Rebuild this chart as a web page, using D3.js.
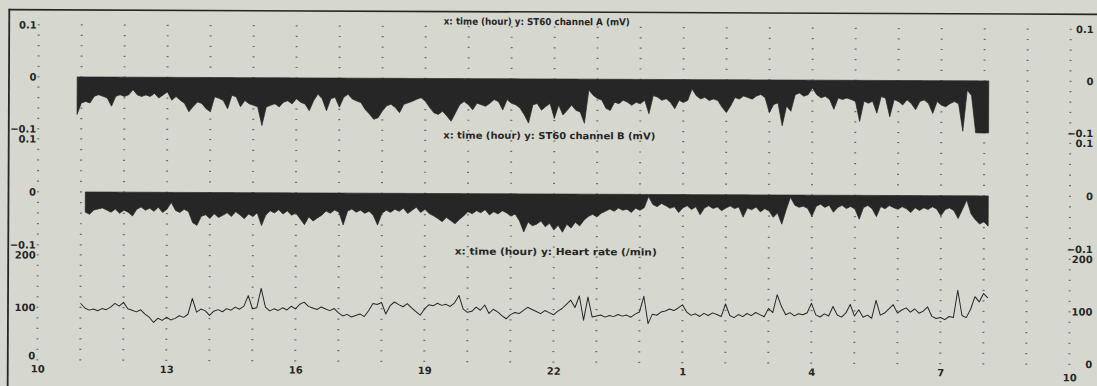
<!DOCTYPE html>
<html><head><meta charset="utf-8">
<script src="https://cdn.jsdelivr.net/npm/d3@7"></script>
<style>
html,body{margin:0;padding:0;background:#d6d8d0;}
svg{display:block;}
</style></head><body>
<svg id="chart" width="1097" height="386"></svg>
<script>
// ---- data ----
const hourTicks = [10, 13, 16, 19, 22, 25, 28, 31, 34];
const stTicks = [-0.1, 0, 0.1];
const hrTicks = [0, 100, 200];
const titles = [
  "x: time (hour)  y: ST60 channel A (mV)",
  "x: time (hour)  y: ST60 channel B (mV)",
  "x: time (hour)  y: Heart rate (/min)"
];
const sampleStep = 0.1;          // hours between samples
const stAStart = 10.9;
const stBStart = 11.1;
const hrStart = 11.0;
const stA = [
-0.072,-0.050,-0.047,-0.050,-0.037,-0.034,-0.037,-0.040,-0.056,-0.037,
-0.034,-0.037,-0.034,-0.024,-0.034,-0.037,-0.034,-0.037,-0.031,-0.040,
-0.034,-0.028,-0.044,-0.037,-0.044,-0.050,-0.066,-0.056,-0.047,-0.050,
-0.060,-0.066,-0.037,-0.040,-0.044,-0.060,-0.034,-0.037,-0.056,-0.044,
-0.050,-0.053,-0.056,-0.092,-0.056,-0.053,-0.050,-0.056,-0.047,-0.044,
-0.050,-0.040,-0.047,-0.050,-0.063,-0.044,-0.031,-0.040,-0.063,-0.040,
-0.037,-0.056,-0.037,-0.031,-0.040,-0.044,-0.047,-0.060,-0.069,-0.079,
-0.076,-0.063,-0.053,-0.050,-0.056,-0.066,-0.050,-0.047,-0.044,-0.040,
-0.037,-0.044,-0.056,-0.066,-0.069,-0.063,-0.072,-0.082,-0.066,-0.050,
-0.044,-0.050,-0.060,-0.047,-0.050,-0.053,-0.047,-0.040,-0.044,-0.060,
-0.040,-0.047,-0.050,-0.056,-0.069,-0.085,-0.050,-0.047,
-0.060,-0.053,-0.047,-0.076,-0.050,-0.069,-0.060,-0.050,-0.060,-0.063,
-0.085,-0.021,-0.031,-0.037,-0.040,-0.056,-0.060,-0.044,-0.047,-0.040,
-0.044,-0.050,-0.044,-0.047,-0.040,-0.066,-0.031,-0.034,-0.040,-0.037,
-0.044,-0.056,-0.040,-0.044,-0.040,-0.018,-0.031,-0.037,-0.034,-0.040,
-0.037,-0.040,-0.053,-0.063,-0.050,-0.034,-0.037,-0.031,-0.034,-0.037,
-0.031,-0.028,-0.034,-0.063,-0.047,-0.044,-0.088,-0.050,-0.060,-0.028,
-0.025,-0.031,-0.028,-0.015,-0.028,-0.034,-0.031,-0.037,-0.056,-0.034,
-0.037,-0.034,-0.037,-0.040,-0.079,-0.040,-0.044,-0.040,-0.063,-0.031,
-0.034,-0.070,-0.037,-0.040,-0.047,-0.037,-0.044,-0.056,-0.040,-0.037,
-0.044,-0.063,-0.040,-0.047,-0.050,-0.044,-0.040,-0.044,-0.097,-0.018,
-0.028,-0.100,-0.100,-0.100,-0.100
];
const stB = [
-0.038,-0.042,-0.034,-0.032,-0.030,-0.034,-0.038,-0.032,-0.040,-0.034,
-0.038,-0.045,-0.032,-0.028,-0.034,-0.030,-0.036,-0.028,-0.038,-0.032,
-0.019,-0.034,-0.038,-0.032,-0.036,-0.057,-0.062,-0.045,-0.042,-0.049,
-0.040,-0.047,-0.043,-0.038,-0.045,-0.036,-0.042,-0.049,-0.040,-0.045,
-0.038,-0.062,-0.042,-0.034,-0.038,-0.032,-0.040,-0.034,-0.042,-0.038,
-0.049,-0.060,-0.045,-0.053,-0.047,-0.042,-0.034,-0.038,-0.032,-0.036,
-0.060,-0.034,-0.030,-0.036,-0.032,-0.038,-0.034,-0.042,-0.060,-0.038,
-0.032,-0.036,-0.030,-0.034,-0.028,-0.038,-0.032,-0.026,-0.036,-0.030,
-0.038,-0.042,-0.047,-0.053,-0.045,-0.051,-0.057,-0.049,-0.042,-0.034,
-0.038,-0.032,-0.036,-0.030,-0.040,-0.034,-0.038,-0.032,-0.036,-0.042,
-0.038,-0.051,-0.072,-0.053,-0.060,-0.057,-0.051,-0.062,-0.055,-0.068,
-0.059,-0.072,-0.057,-0.064,-0.053,-0.060,-0.049,-0.042,-0.038,-0.043,
-0.036,-0.032,-0.028,-0.032,-0.026,-0.030,-0.028,-0.034,-0.026,-0.030,
-0.025,-0.004,-0.019,-0.023,-0.017,-0.021,-0.026,-0.023,-0.034,-0.025,
-0.021,-0.028,-0.023,-0.038,-0.025,-0.021,-0.026,-0.023,-0.030,-0.025,
-0.021,-0.026,-0.023,-0.042,-0.025,-0.028,-0.023,-0.032,-0.026,-0.030,
-0.042,-0.034,-0.055,-0.028,-0.004,-0.019,-0.023,-0.021,-0.025,-0.040,
-0.021,-0.017,-0.023,-0.019,-0.032,-0.023,-0.019,-0.025,-0.021,-0.026,
-0.045,-0.023,-0.019,-0.025,-0.040,-0.021,-0.025,-0.019,-0.023,-0.026,
-0.021,-0.025,-0.032,-0.023,-0.028,-0.023,-0.026,-0.021,-0.025,-0.038,
-0.026,-0.023,-0.028,-0.043,-0.026,-0.008,-0.034,-0.045,-0.053,-0.049,
-0.057
];
const heartRate = [
108, 99, 95, 97, 94, 98, 96,101,108,103,
110, 98, 95, 92, 96, 88, 82, 72, 80, 76,
 82, 77, 80, 85, 82, 88,118, 92, 98, 95,
 86, 94, 97, 93, 99, 96,102, 98,104,124,
 99,101,138,102, 95, 99, 96,101, 97,104,
 99,108,112,104,101, 98,103, 99, 96,100,
 92, 86, 89, 84, 87, 90, 85, 96,110,108,
112, 90,106,113,108,104,110,102, 95, 88,
100,108,106,111,107,109,105,112,126,100,
 94, 96,104, 98,108, 92,100, 95, 88, 82,
 90, 94, 92, 98,104,100, 96, 92, 98, 94,
 90, 97,102,110,118,104,126, 80,124, 86,
 88, 90, 86, 89, 87, 91, 88, 90, 86, 92,
 96,126, 74, 92, 90, 96, 98,102, 99,104,
110, 96, 90, 93, 88, 94, 90, 95, 92, 88,
112, 90, 86, 92, 88, 94, 90, 96, 92, 88,
104, 96,130,108, 92, 96, 90, 94, 92, 96,
114, 92, 88, 94, 90,108, 92, 88, 96,112,
 90,102, 88, 92, 86,120, 92, 96,104,112,
 96,102,106, 98,104, 96,100,108, 90, 86,
 88, 84, 90, 88,140, 92, 88,104,128,118,
134,126
];

// ---- layout ----
const W = 1097, H = 386;
const ink = "#262626";
const svg = d3.select("#chart").attr("viewBox", `0 0 ${W} ${H}`);
svg.append("rect").attr("width", W).attr("height", H).attr("fill", "#d6d8d0");

const root = svg.append("g").attr("transform", "rotate(0.25 548 193)");

const x = d3.scaleLinear().domain([10, 34]).range([38, 1070]);
const yA = d3.scaleLinear().domain([-0.1, 0.1]).range([131, 27]);
const yB = d3.scaleLinear().domain([-0.1, 0.1]).range([247, 141]);
const yH = d3.scaleLinear().domain([0, 200]).range([362, 257]);

// frame lines
root.append("line").attr("x1", 8).attr("x2", W + 5).attr("y1", 12).attr("y2", 12)
  .attr("stroke", ink).attr("stroke-width", 1.6);
root.append("line").attr("x1", 8.5).attr("x2", 8.5).attr("y1", 11).attr("y2", H + 5)
  .attr("stroke", ink).attr("stroke-width", 1.8);

// dotted grid
const hours = d3.range(10, 35, 1);
const panels = [
  {scale: yA, levels: d3.range(0, 11).map(i => -0.1 + i * 0.02)},
  {scale: yB, levels: d3.range(0, 11).map(i => -0.1 + i * 0.02)},
  {scale: yH, levels: d3.range(0, 11).map(i => i * 20)}
];
const dots = [];
panels.forEach(p => hours.forEach(h => p.levels.forEach(l => dots.push([x(h), p.scale(l)]))));
root.append("g").selectAll("rect").data(dots).join("rect")
  .attr("x", d => d[0] - 1).attr("y", d => d[1] - 0.6)
  .attr("width", 2).attr("height", 1.2).attr("fill", "#6c6c6a");

// ST areas
function drawArea(values, start, yScale) {
  const area = d3.area()
    .x((d, i) => x(start + i * sampleStep))
    .y0(yScale(0))
    .y1(d => yScale(d))
    .curve(d3.curveLinear);
  root.append("path").datum(values).attr("d", area)
    .attr("fill", ink).attr("stroke", ink).attr("stroke-width", 0.7)
    .attr("stroke-linejoin", "round");
}
drawArea(stA, stAStart, yA);
drawArea(stB, stBStart, yB);

// heart-rate line
const hrLine = d3.line()
  .x((d, i) => x(hrStart + i * sampleStep))
  .y(d => yH(d));
root.append("path").datum(heartRate).attr("d", hrLine)
  .attr("fill", "none").attr("stroke", ink).attr("stroke-width", 1)
  .attr("stroke-linejoin", "round");

// axes
const tickFont = "bold 10px 'DejaVu Sans', sans-serif";
const stFmt = d => d === 0 ? "0" : d3.format(".1f")(d);
function leftAxis(scale, ticks, fmt) {
  const g = root.append("g").attr("transform", `translate(38,0)`)
    .call(d3.axisLeft(scale).tickValues(ticks).tickSize(0).tickPadding(2).tickFormat(fmt));
  g.select(".domain").remove();
  g.selectAll("text").attr("fill", ink).style("font", tickFont);
  return g;
}
function rightAxis(scale, ticks, fmt) {
  const g = root.append("g").attr("transform", `translate(1070,0)`)
    .call(d3.axisRight(scale).tickValues(ticks).tickSize(0).tickFormat(fmt));
  g.select(".domain").remove();
  g.selectAll("text").attr("fill", ink).style("font", tickFont)
    .attr("x", 23).attr("text-anchor", "end");
  return g;
}
leftAxis(yA, stTicks, stFmt); rightAxis(yA, stTicks, stFmt);
leftAxis(yB, stTicks, stFmt); rightAxis(yB, stTicks, stFmt);
const hrLeft = leftAxis(yH, hrTicks, d3.format("d"));
rightAxis(yH, hrTicks, d3.format("d"));
// lift the bottom "0" a little so it sits above the "10" hour label
hrLeft.selectAll("text").filter(d => d === 0).attr("dy", "-0.1em");

const gx = root.append("g").attr("transform", "translate(0,367.5)")
  .call(d3.axisBottom(x).tickValues(hourTicks).tickSize(0).tickPadding(0)
    .tickFormat(d => String(d % 24)));
gx.select(".domain").remove();
gx.selectAll("text").attr("fill", ink).style("font", tickFont)
  .attr("dy", (d, i, n) => i === n.length - 1 ? "1.15em" : "0.71em");

// panel titles
const titlePos = [[443, 25, 186], [443, 139, 212], [455, 255, 202]];
titles.forEach((t, i) => {
  root.append("text").attr("x", titlePos[i][0]).attr("y", titlePos[i][1])
    .attr("textLength", titlePos[i][2]).attr("lengthAdjust", "spacingAndGlyphs")
    .attr("fill", ink).style("font", "bold 9.5px 'DejaVu Sans', sans-serif")
    .text(t);
});
</script>
</body></html>
